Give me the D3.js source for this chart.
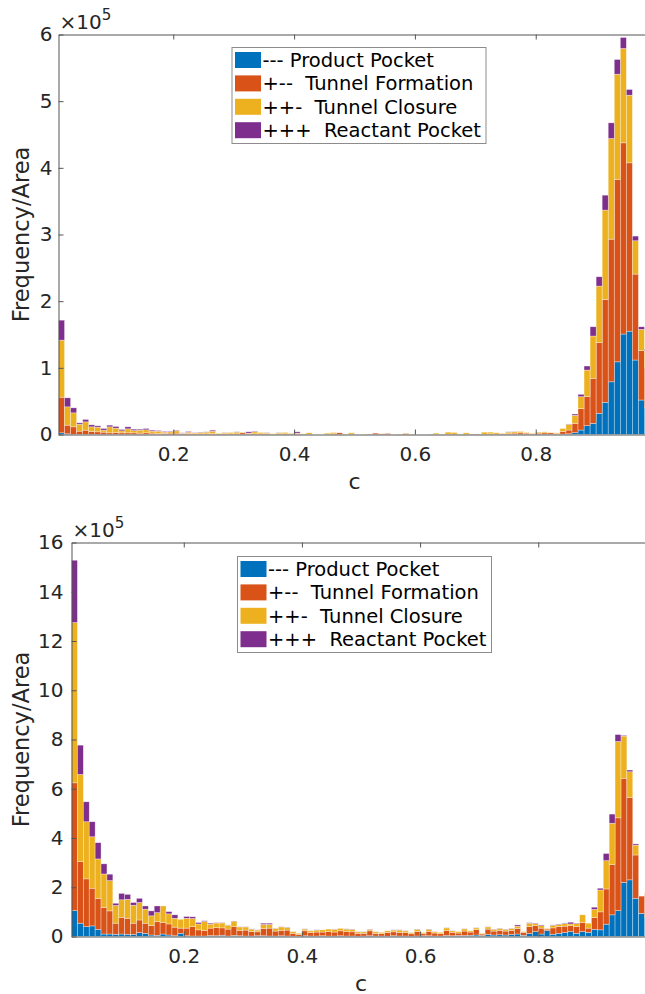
<!DOCTYPE html>
<html>
<head>
<meta charset="utf-8">
<script src="https://cdn.jsdelivr.net/npm/d3@7"></script>
<style>
  body { margin: 0; background: #fff; }
  svg { display: block; font-family: "DejaVu Sans", sans-serif; }
</style>
</head>
<body>
<div id="vis"></div>
<script>
// bins of width 0.01 starting at 0.01 (98 bins, 0.01 .. 0.99), values in units of 1e5
var binStart = 0.01, binWidth = 0.01;
var seriesNames = ["--- Product Pocket", "+--  Tunnel Formation", "++-  Tunnel Closure", "+++  Reactant Pocket"];
var seriesColors = ["#0072BD", "#D95319", "#EDB120", "#7E2F8E"];
var xTicks = [0.2, 0.4, 0.6, 0.8];

// top panel
var topBlue = [0.025,0.01,0,0,0,0,0,0,0,0,
  0,0,0,0,0,0,0,0,0,0,
  0,0,0,0,0,0,0,0,0,0,
  0,0,0,0,0,0,0,0,0,0,
  0,0,0,0,0,0,0,0,0,0,
  0,0,0,0,0,0,0,0,0,0,
  0,0,0,0,0,0,0,0,0,0,
  0,0,0,0,0,0,0.005,0,0,0,
  0.005,0,0,0.005,0.01,0.027,0.067,0.132,0.168,0.318,
  0.483,0.79,1.09,1.507,1.55,1.117,0.517,0.4];
var topOrange = [0.535,0.13,0.115,0.05,0.065,0.045,0.04,0.035,0.025,0.03,
  0.025,0.025,0.025,0.02,0.025,0.02,0.015,0.015,0.02,0.02,
  0.01,0.015,0.01,0.01,0.01,0.015,0.01,0.01,0.01,0.01,
  0.025,0.01,0.01,0.01,0.01,0,0.01,0.01,0.01,0.01,
  0,0,0,0,0,0.01,0.025,0,0.005,0,
  0,0.005,0.02,0.01,0.015,0,0,0.015,0,0,
  0,0,0,0,0.005,0.005,0,0.005,0.005,0.005,
  0.005,0.01,0.005,0.01,0.01,0.02,0.02,0.02,0.01,0.02,
  0.02,0.025,0.015,0.04,0.057,0.141,0.32,0.435,0.675,1.059,
  1.544,2.14,2.736,2.868,2.525,1.289,0.74,0.6];
var topYellow = [0.855,0.275,0.21,0.105,0.125,0.07,0.07,0.03,0.09,0.065,
  0.03,0.06,0.035,0.045,0.045,0.03,0.035,0.02,0.02,0.035,
  0.01,0.02,0.015,0.02,0.025,0.035,0.01,0.015,0.02,0.025,
  0.01,0.01,0.03,0.02,0.015,0.01,0.015,0.02,0.01,0.01,
  0.01,0.025,0,0,0.02,0.02,0,0.005,0.02,0,
  0,0,0,0.005,0,0,0.005,0.005,0.005,0,
  0,0.005,0.02,0.005,0.03,0.025,0.005,0.02,0,0,
  0.03,0.025,0.02,0.01,0.025,0.02,0.02,0.01,0.01,0.015,
  0.015,0.005,0.01,0.045,0.086,0.12,0.18,0.4,0.634,0.849,
  1.339,1.51,1.579,1.415,1.015,0.5,0.32,0.25];
var topPurple = [0.30,0.135,0.075,0.02,0.035,0.03,0.02,0.025,0.025,0.025,
  0.02,0.03,0.02,0.015,0.02,0.015,0.01,0.01,0.01,0.01,
  0.005,0.01,0.005,0.005,0.005,0.015,0,0.005,0,0.005,
  0,0.02,0.01,0,0.005,0,0.005,0,0,0.02,
  0,0,0,0,0,0,0,0,0,0,
  0,0,0,0,0,0,0,0,0,0,
  0,0,0,0,0,0,0,0,0,0,
  0,0,0,0,0.005,0.005,0,0,0,0,
  0,0,0,0,0.005,0.019,0.036,0.06,0.139,0.14,
  0.224,0.235,0.22,0.165,0.085,0.07,0.039,0.03];

// bottom panel
var botBlue = [1.05,0.54,0.40,0.43,0.29,0.1,0.1,0.09,0.1,0.09,
  0.08,0.16,0.13,0.06,0.05,0.1,0.06,0.03,0.13,0.03,
  0.02,0.02,0.02,0.04,0.03,0.05,0.02,0.04,0.03,0.02,
  0.02,0.03,0.03,0.02,0.02,0.03,0.02,0.01,0.01,0.03,
  0.02,0.02,0.03,0.02,0.02,0.03,0.02,0.02,0.01,0.02,
  0.03,0.02,0.02,0.01,0.03,0.02,0.02,0.01,0.02,0.03,
  0.03,0.02,0.02,0.04,0.03,0.04,0.04,0.05,0.06,0.04,
  0.08,0.06,0.07,0.06,0.08,0.1,0.05,0.12,0.2,0.1,
  0.24,0.09,0.13,0.16,0.2,0.13,0.2,0.17,0.29,0.27,
  0.5,0.88,1.05,2.2,2.3,1.55,0.94,0.8];
var botOrange = [5.19,2.5,1.94,1.53,1.26,1.07,0.94,0.45,0.68,0.65,
  0.46,0.51,0.41,0.38,0.55,0.47,0.45,0.35,0.21,0.31,
  0.38,0.25,0.22,0.3,0.33,0.3,0.28,0.36,0.22,0.24,
  0.18,0.16,0.3,0.32,0.2,0.22,0.24,0.12,0.08,0.2,
  0.14,0.16,0.15,0.18,0.16,0.2,0.18,0.17,0.12,0.11,
  0.2,0.1,0.1,0.15,0.16,0.15,0.14,0.1,0.18,0.08,
  0.18,0.12,0.1,0.2,0.14,0.1,0.18,0.13,0.22,0.06,
  0.22,0.16,0.18,0.16,0.17,0.22,0.12,0.28,0.24,0.24,
  0.06,0.26,0.27,0.26,0.24,0.27,0.36,0.17,0.48,0.73,
  1.43,2.04,3.77,4.22,3.35,1.76,0.7,0.9];
var botYellow = [6.51,3.54,2.32,2.09,1.6,1.37,1.23,0.72,0.71,0.77,
  0.73,0.71,0.57,0.4,0.37,0.67,0.41,0.36,0.36,0.4,
  0.33,0.24,0.37,0.16,0.19,0.2,0.16,0.22,0.14,0.13,
  0.1,0.07,0.16,0.15,0.1,0.14,0.11,0.07,0.04,0.07,
  0.07,0.08,0.09,0.1,0.11,0.1,0.1,0.1,0.06,0.06,
  0.06,0.07,0.05,0.07,0.07,0.09,0.07,0.05,0.09,0.05,
  0.08,0.05,0.05,0.11,0.06,0.06,0.09,0.05,0.07,0.03,
  0.09,0.07,0.07,0.07,0.07,0.1,0.03,0.14,0.08,0.1,
  0.03,0.1,0.08,0.1,0.07,0.12,0.32,0.2,0.33,0.89,
  1.15,1.68,3.1,1.72,1.04,0.4,0,0.1];
var botPurple = [2.53,1.19,0.81,0.61,0.66,0.41,0.26,0.09,0.26,0.2,
  0.11,0.17,0.13,0.2,0.27,0,0.09,0.14,0,0.07,
  0.07,0.06,0.03,0.04,0.01,0.01,0.01,0.01,0.01,0.01,
  0.01,0.01,0.05,0.05,0.01,0.01,0.01,0,0,0.01,
  0.01,0.01,0,0,0.01,0,0.01,0.01,0.01,0.01,
  0.01,0.01,0,0,0.01,0.01,0.01,0,0.01,0,
  0.01,0.01,0,0.01,0.01,0,0.01,0,0.01,0,
  0.01,0.01,0.01,0.01,0.01,0.05,0,0.02,0.02,0.03,
  0,0.02,0.02,0.02,0.07,0.02,0,0,0.09,0.07,
  0.29,0.37,0.28,0.03,0.07,0.05,0,0];

var topYTicks = [0, 1, 2, 3, 4, 5, 6];
var botYTicks = [0, 2, 4, 6, 8, 10, 12, 14, 16];

var svg = d3.select("#vis").append("svg")
  .attr("width", 645)
  .attr("height", 994);

function drawPanel(cfg) {
  var rows = cfg.series[0].map(function(v, i) {
    return { c: binStart + i * binWidth, s0: cfg.series[0][i], s1: cfg.series[1][i], s2: cfg.series[2][i], s3: cfg.series[3][i] };
  });
  var keys = ["s0", "s1", "s2", "s3"];
  var stacked = d3.stack().keys(keys)(rows);

  var x = d3.scaleLinear().domain([0.01, 0.99]).range([cfg.left, cfg.right]);
  var y = d3.scaleLinear().domain([0, cfg.yMax]).range([cfg.bottom, cfg.top]);

  var g = svg.append("g");
  var clipId = "clip" + cfg.id;
  g.append("clipPath").attr("id", clipId)
    .append("rect").attr("x", cfg.left).attr("y", cfg.top)
    .attr("width", cfg.right - cfg.left).attr("height", cfg.bottom - cfg.top);

  var bars = g.append("g").attr("clip-path", "url(#" + clipId + ")");
  bars.selectAll("g.layer")
    .data(stacked)
    .enter().append("g")
      .attr("class", "layer")
      .attr("fill", function(d, i) { return seriesColors[i]; })
    .selectAll("rect")
    .data(function(d) { return d.filter(function(p) { return p[1] - p[0] > 0; }); })
    .enter().append("rect")
      .attr("x", function(d) { return x(d.data.c); })
      .attr("width", function(d) { return x(d.data.c + binWidth) - x(d.data.c); })
      .attr("y", function(d) { return y(d[1]); })
      .attr("height", function(d) { return y(d[0]) - y(d[1]); })
      .attr("stroke", "rgba(255,255,255,0.55)")
      .attr("stroke-width", 0.6);

  // axes (box with inward ticks)
  var axisColor = "#555";
  var bx = g.append("g").attr("transform", "translate(0," + cfg.bottom + ")")
    .call(d3.axisBottom(x).tickValues(xTicks).tickSizeInner(-5).tickSizeOuter(0).tickPadding(12)
      .tickFormat(d3.format(".1f")));
  var tx = g.append("g").attr("transform", "translate(0," + cfg.top + ")")
    .call(d3.axisTop(x).tickValues(xTicks).tickSizeInner(-5).tickSizeOuter(0).tickFormat(""));
  var ly = g.append("g").attr("transform", "translate(" + cfg.left + ",0)")
    .call(d3.axisLeft(y).tickValues(cfg.yTicks).tickSizeInner(-5).tickSizeOuter(0).tickPadding(cfg.yPad)
      .tickFormat(d3.format("d")));
  var ry = g.append("g").attr("transform", "translate(" + cfg.right + ",0)")
    .call(d3.axisRight(y).tickValues(cfg.yTicks).tickSizeInner(-5).tickSizeOuter(0).tickFormat(""));

  [bx, tx, ly, ry].forEach(function(a) {
    a.selectAll("path").attr("stroke", axisColor).attr("stroke-width", 1);
    a.selectAll("line").attr("stroke", axisColor).attr("stroke-width", 1);
    a.selectAll("text").attr("fill", "#262626").style("font-size", "20px")
      .style("font-family", "DejaVu Sans, sans-serif");
  });

  // exponent label
  var ex = g.append("text")
    .attr("x", cfg.left + 1)
    .attr("y", cfg.top - 6)
    .attr("fill", "#262626")
    .style("font-size", "20px");
  ex.append("tspan").text("\u00d710");
  ex.append("tspan").attr("dy", -9).style("font-size", "15px").text("5");

  // axis labels
  g.append("text")
    .attr("x", (cfg.left + cfg.right) / 2)
    .attr("y", cfg.bottom + 54)
    .attr("text-anchor", "middle")
    .attr("fill", "#262626")
    .style("font-size", "22px")
    .text("c");
  g.append("text")
    .attr("transform", "translate(29," + ((cfg.top + cfg.bottom) / 2) + ") rotate(-90)")
    .attr("text-anchor", "middle")
    .attr("fill", "#262626")
    .style("font-size", "22.5px")
    .text("Frequency/Area");

  // legend
  var lg = g.append("g").attr("transform", "translate(" + cfg.legX + "," + cfg.legY + ")");
  lg.append("rect")
    .attr("x", 0.5).attr("y", 0.5)
    .attr("width", 254).attr("height", 96)
    .attr("fill", "#fff")
    .attr("stroke", "#8c8c8c")
    .attr("stroke-width", 1);
  seriesNames.forEach(function(name, i) {
    var cy = 13 + i * 23.4;
    lg.append("rect")
      .attr("x", 3.5).attr("y", cy - 8)
      .attr("width", 26).attr("height", 16)
      .attr("fill", seriesColors[i]);
    lg.append("text")
      .attr("x", 31)
      .attr("y", cy + 7)
      .attr("fill", "#000")
      .style("font-size", "19.5px")
      .style("white-space", "pre")
      .attr("xml:space", "preserve")
      .text(name);
  });
}

drawPanel({
  id: "top", series: [topBlue, topOrange, topYellow, topPurple],
  left: 58.5, right: 650.5, top: 34.5, bottom: 434.5, yMax: 6, yTicks: topYTicks, yPad: 6,
  legX: 231.5, legY: 47
});
drawPanel({
  id: "bot", series: [botBlue, botOrange, botYellow, botPurple],
  left: 71.5, right: 650.5, top: 542.5, bottom: 936.5, yMax: 16, yTicks: botYTicks, yPad: 8,
  legX: 237, legY: 556
});
</script>
</body>
</html>
